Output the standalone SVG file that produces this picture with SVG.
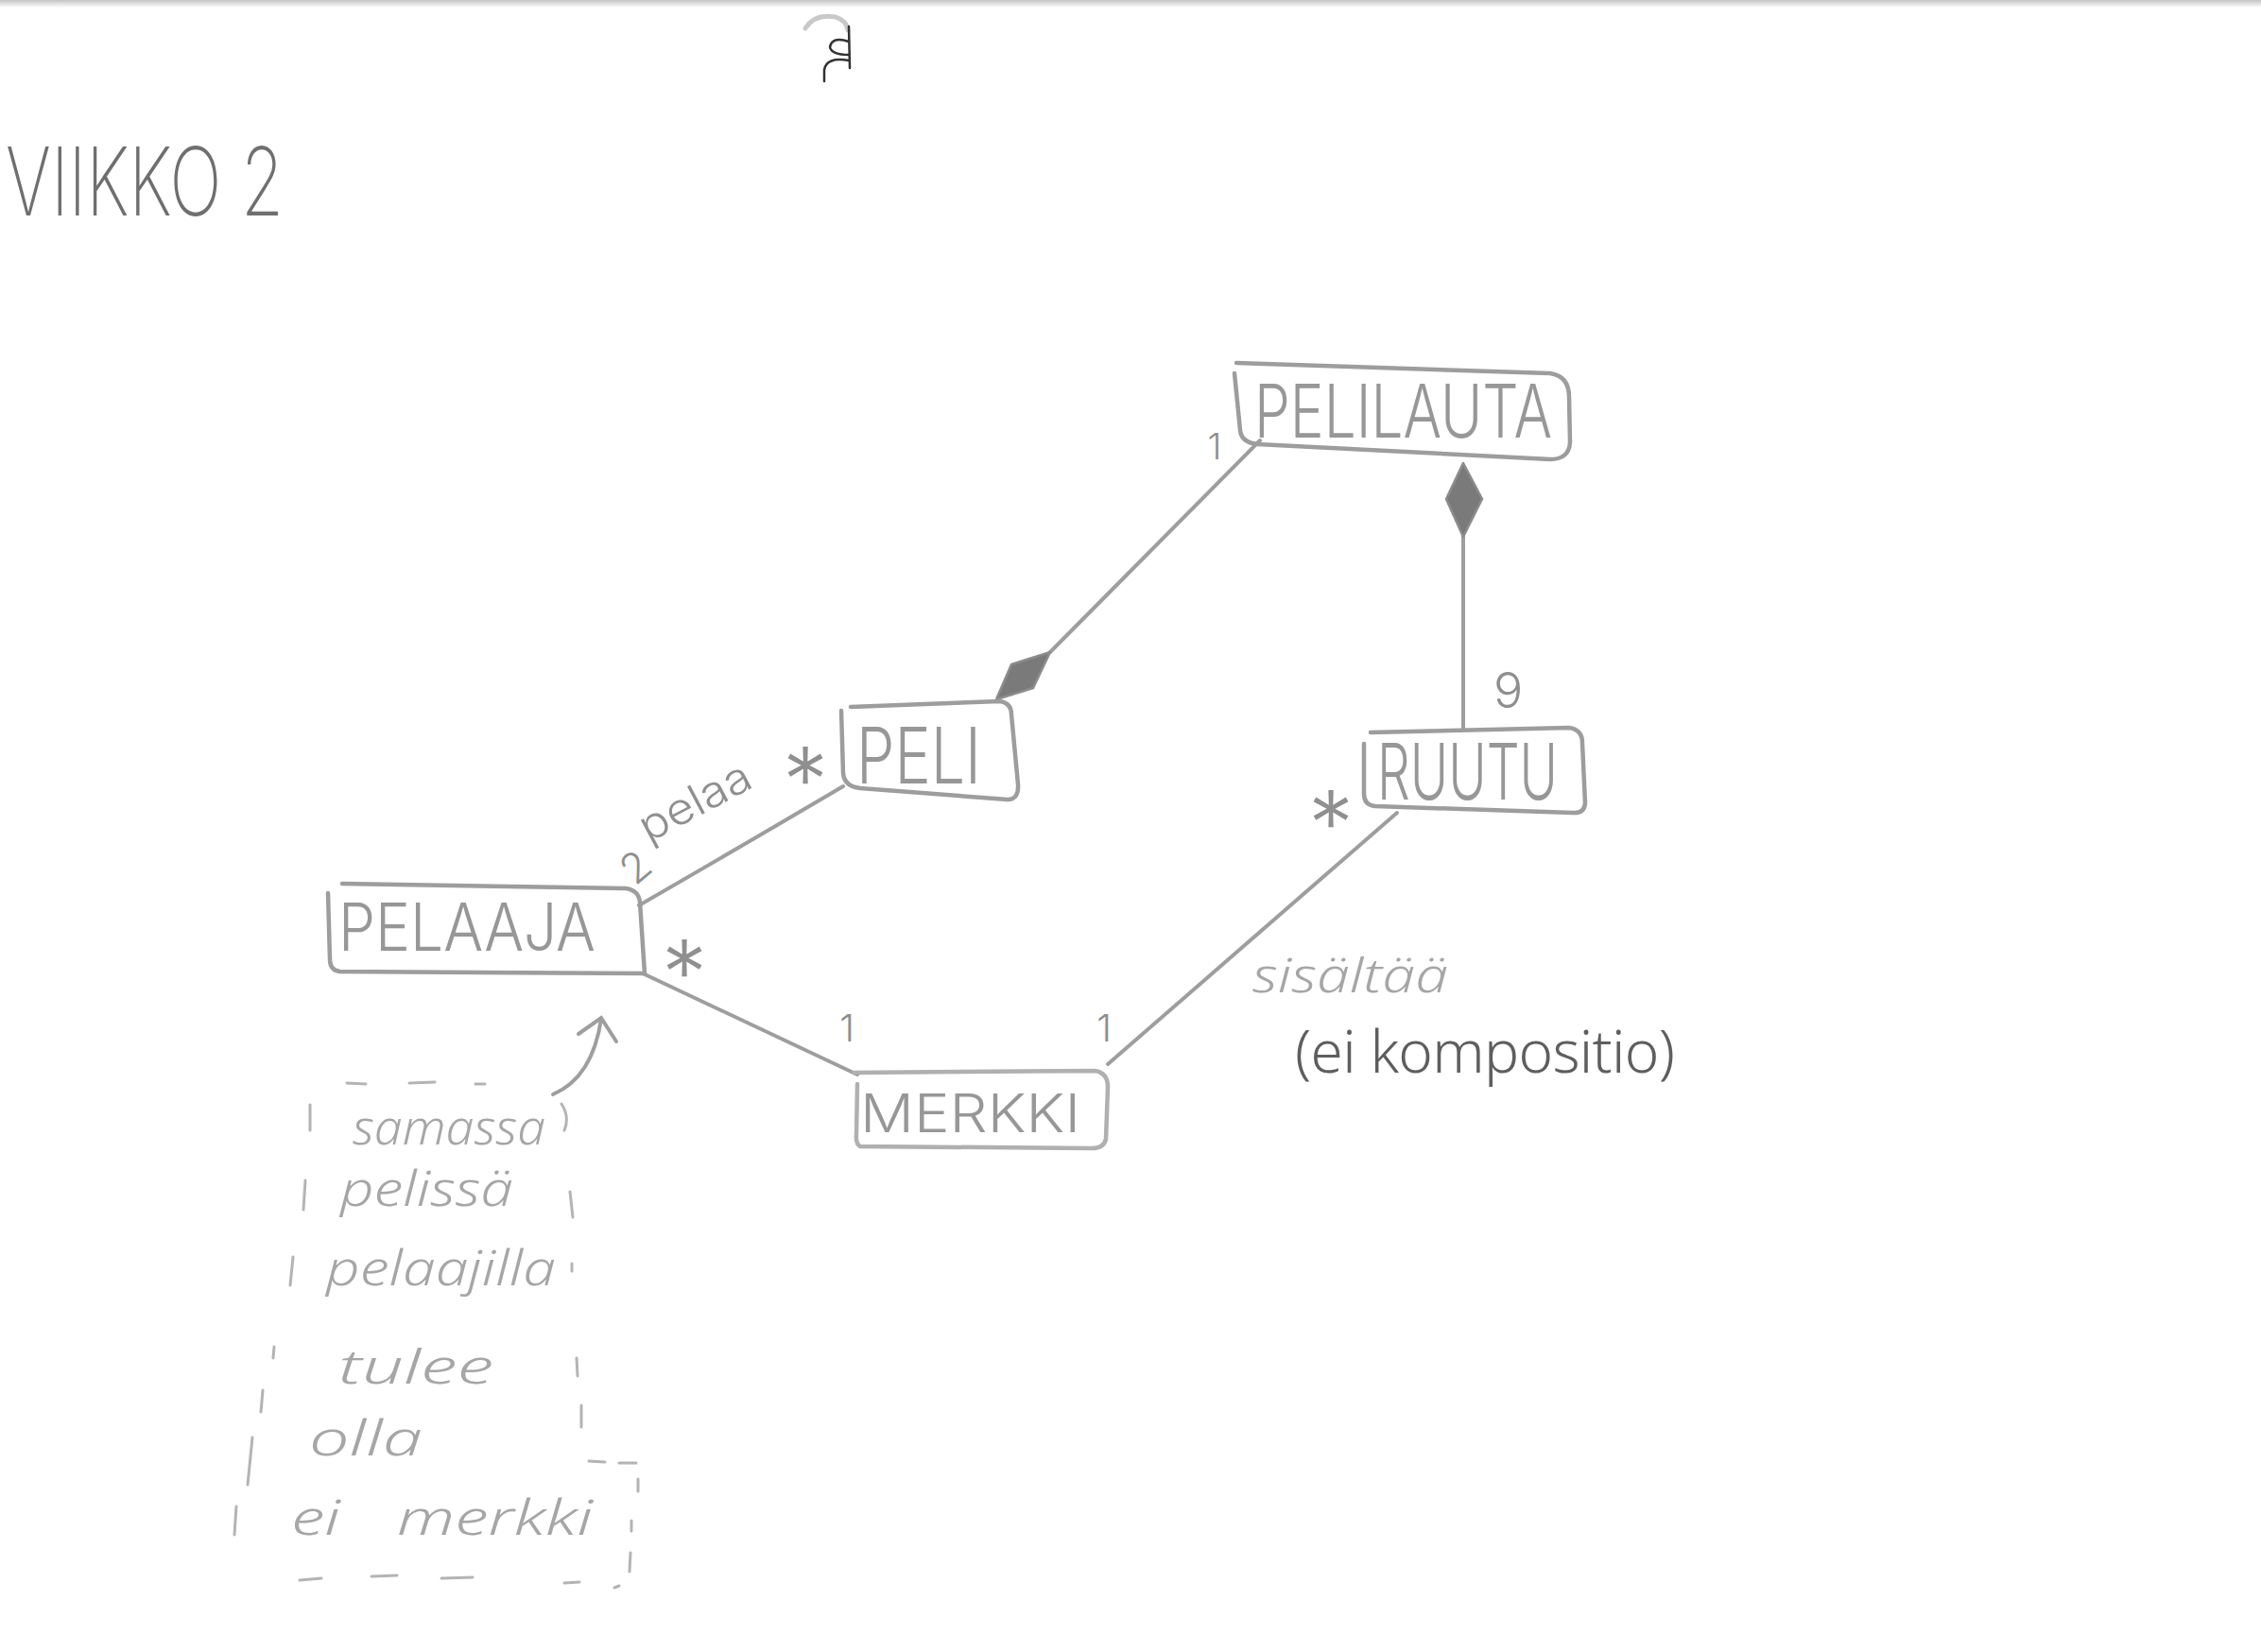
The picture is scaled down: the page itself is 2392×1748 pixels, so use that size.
<svg xmlns="http://www.w3.org/2000/svg" width="2392" height="1748" viewBox="0 0 2392 1748">
  <defs>
    <linearGradient id="paperEdge" x1="0" y1="0" x2="0" y2="1">
      <stop offset="0" stop-color="#c4c4c4"/>
      <stop offset="1" stop-color="#ffffff"/>
    </linearGradient>
    <linearGradient id="fadeLine" gradientUnits="userSpaceOnUse" x1="1478" y1="860" x2="1172" y2="1126">
      <stop offset="0" stop-color="#a2a2a2"/>
      <stop offset="1" stop-color="#cdcdcd"/>
    </linearGradient>
    <style>
      .box { fill: none; stroke: #9d9d9d; stroke-width: 4.5; stroke-linecap: round; stroke-linejoin: round; }
      .box-light { stroke: #b0b0b0; }
      .edge { fill: none; stroke: #9e9e9e; stroke-width: 4; stroke-linecap: round; }
      .diamond { fill: #7a7a7a; stroke: #8c8c8c; stroke-width: 2.5; stroke-linejoin: round; }
      .label { font-family: Inter, "Liberation Sans", sans-serif; font-weight: 300; fill: #979797; }
      .mult { font-family: Inter, "Liberation Sans", sans-serif; font-weight: 300; fill: #8f8f8f; }
      .title { font-family: Inter, "Liberation Sans", sans-serif; font-weight: 200; fill: #6f6f6f; }
      .note { font-family: "Noto Sans", "DejaVu Sans", sans-serif; font-style: italic; font-weight: 300; fill: #a6a6a6; }
      .remark { font-family: "Noto Sans", "DejaVu Sans", sans-serif; font-weight: 300; fill: #5e5e5e; }
      .dash { fill: none; stroke: #b4b4b4; stroke-width: 3; stroke-linecap: round; }
      .scribble { fill: none; stroke: #333; stroke-width: 2.5; stroke-linecap: round; }
    </style>
  </defs>

  <rect width="2392" height="1748" fill="#ffffff"/>
  <rect width="2392" height="8" fill="url(#paperEdge)"/>

  <!-- small pen mark near the top edge -->
  <g id="pen-mark">
    <path d="M852,30 Q862,14 884,18 Q896,22 897,32" fill="none" stroke="#c9c9c9" stroke-width="5" stroke-linecap="round"/>
    <path class="scribble" d="M898,28 L899,72"/>
    <path class="scribble" d="M898,44 Q880,38 878,50 Q880,58 898,58"/>
    <path class="scribble" d="M898,64 Q874,60 872,74 L872,86"/>
  </g>

  <!-- heading -->
  <g id="heading">
    <text class="title" x="6" y="228" font-size="100" textLength="294" lengthAdjust="spacingAndGlyphs">VIIKKO 2</text>
  </g>

  <!-- connectors -->
  <g id="connectors">
    <!-- PELILAUTA composed of PELI -->
    <path class="edge" d="M1333,466 L1111,690"/>
    <path class="diamond" d="M1111,690 L1093,728 L1054,740 L1070,703 Z"/>
    <!-- PELILAUTA composed of RUUTU -->
    <path class="edge" d="M1548,567 L1548,772"/>
    <path class="diamond" d="M1548,490 L1568,528 L1548,568 L1530,528 Z"/>
    <!-- PELAAJA plays PELI -->
    <path class="edge" d="M676,958 Q780,898 892,832"/>
    <!-- PELAAJA to MERKKI -->
    <path class="edge" d="M680,1030 L907,1137"/>
    <!-- RUUTU contains MERKKI -->
    <path class="edge" d="M1478,860 L1172,1126" stroke="url(#fadeLine)" stroke-width="3.5"/>

    <!-- multiplicities and association names -->
    <text class="mult" x="1285" y="486" font-size="38" text-anchor="middle">1</text>
    <text class="mult" x="1580" y="749" font-size="52">9</text>
    <text class="mult" x="852" y="860" font-size="96" text-anchor="middle">*</text>
    <text class="mult" x="724" y="1064" font-size="96" text-anchor="middle">*</text>
    <text class="mult" x="1408" y="906" font-size="96" text-anchor="middle">*</text>
    <text class="mult" x="896" y="1102" font-size="40" text-anchor="middle">1</text>
    <text class="mult" x="1168" y="1102" font-size="40" text-anchor="middle">1</text>
    <text class="mult" transform="translate(672,938) rotate(-40)" font-size="44">2</text>
    <text class="mult" transform="translate(686,892) rotate(-28)" font-size="46" textLength="128" lengthAdjust="spacingAndGlyphs">pelaa</text>
    <text class="note" x="1325" y="1050" font-size="50" textLength="207" lengthAdjust="spacingAndGlyphs" fill="#bdbdbd">sisältää</text>
    <text class="remark" x="1370" y="1135" font-size="62" textLength="402" lengthAdjust="spacing">(ei kompositio)</text>
  </g>

  <!-- classes -->
  <g id="pelilauta">
    <path class="box" d="M1308,384 L1640,395 Q1660,398 1660,420 L1661,468 Q1660,486 1640,486 L1330,470 Q1313,468 1312,455 L1306,395"/>
    <text class="label" x="1327" y="463" font-size="78" textLength="315" lengthAdjust="spacingAndGlyphs">PELILAUTA</text>
  </g>

  <g id="peli">
    <path class="box" d="M900,748 L1058,742 Q1070,744 1070,756 L1077,830 Q1078,846 1066,846 L910,834 Q893,832 892,818 L890,752"/>
    <text class="label" x="906" y="829" font-size="82" textLength="132" lengthAdjust="spacingAndGlyphs">PELI</text>
  </g>

  <g id="ruutu">
    <path class="box" d="M1450,775 L1660,770 Q1674,772 1674,786 L1677,850 Q1676,861 1664,860 L1455,853 Q1443,852 1443,840 L1443,787"/>
    <text class="label" x="1457" y="846" font-size="82" textLength="191" lengthAdjust="spacingAndGlyphs">RUUTU</text>
  </g>

  <g id="pelaaja">
    <path class="box" d="M362,935 L662,940 Q676,942 677,955 L682,1030 L360,1028 Q349,1027 349,1015 L347,945"/>
    <text class="label" x="358" y="1006" font-size="70" textLength="272" lengthAdjust="spacingAndGlyphs">PELAAJA</text>
  </g>

  <g id="merkki">
    <path class="box box-light" d="M903,1135 L1158,1133 Q1172,1135 1172,1150 L1170,1205 Q1168,1215 1155,1215 L910,1213 Q905,1210 906,1200 L907,1147"/>
    <text class="label" x="910" y="1198" font-size="56" textLength="233" lengthAdjust="spacingAndGlyphs" fill="#ababab">MERKKI</text>
  </g>

  <!-- note attached to PELAAJA -->
  <g id="note">
    <path class="edge" d="M585,1158 Q627,1140 636,1078" stroke="#a8a8a8" stroke-width="3.5"/>
    <path class="edge" d="M612,1094 L636,1077 L652,1102" stroke="#a8a8a8" stroke-width="3.5"/>

    <text class="note" x="373" y="1211" font-size="50" textLength="204" lengthAdjust="spacingAndGlyphs">samassa</text>
    <text class="note" x="360" y="1276" font-size="52" textLength="183" lengthAdjust="spacingAndGlyphs">pelissä</text>
    <text class="note" x="345" y="1360" font-size="52" textLength="243" lengthAdjust="spacingAndGlyphs">pelaajilla</text>
    <text class="note" x="358" y="1464" font-size="50" textLength="164" lengthAdjust="spacingAndGlyphs">tulee</text>
    <text class="note" x="327" y="1540" font-size="52" textLength="120" lengthAdjust="spacingAndGlyphs">olla</text>
    <text class="note" y="1624" font-size="52"><tspan x="308" textLength="52" lengthAdjust="spacingAndGlyphs">ei</tspan> <tspan x="420" textLength="207" lengthAdjust="spacingAndGlyphs">merkki</tspan></text>

    <!-- dashed outline of the note -->
    <path class="dash" d="M367,1146 L387,1147 M433,1146 L460,1145 M503,1147 L513,1147"/>
    <path class="dash" d="M328,1169 L328,1196 M323,1249 L321,1280 M310,1330 L307,1360 M290,1425 L289,1437 M278,1471 L276,1494 M250,1594 L248,1624"/>
    <path class="dash" d="M267,1521 L262,1571" stroke-width="5"/>
    <path class="dash" d="M594,1168 Q603,1182 597,1196 M603,1261 L606,1288 M605,1337 L605,1345 M610,1437 L611,1456 M615,1487 L615,1510"/>
    <path class="dash" d="M623,1546 L640,1547 M655,1548 L673,1548 M675,1565 L675,1578 M668,1609 L668,1620 M667,1643 L666,1663"/>
    <path class="dash" d="M317,1672 L340,1670 M393,1668 L420,1667 M467,1670 L500,1669 M597,1675 L613,1674 M650,1680 L655,1678"/>
  </g>
</svg>
